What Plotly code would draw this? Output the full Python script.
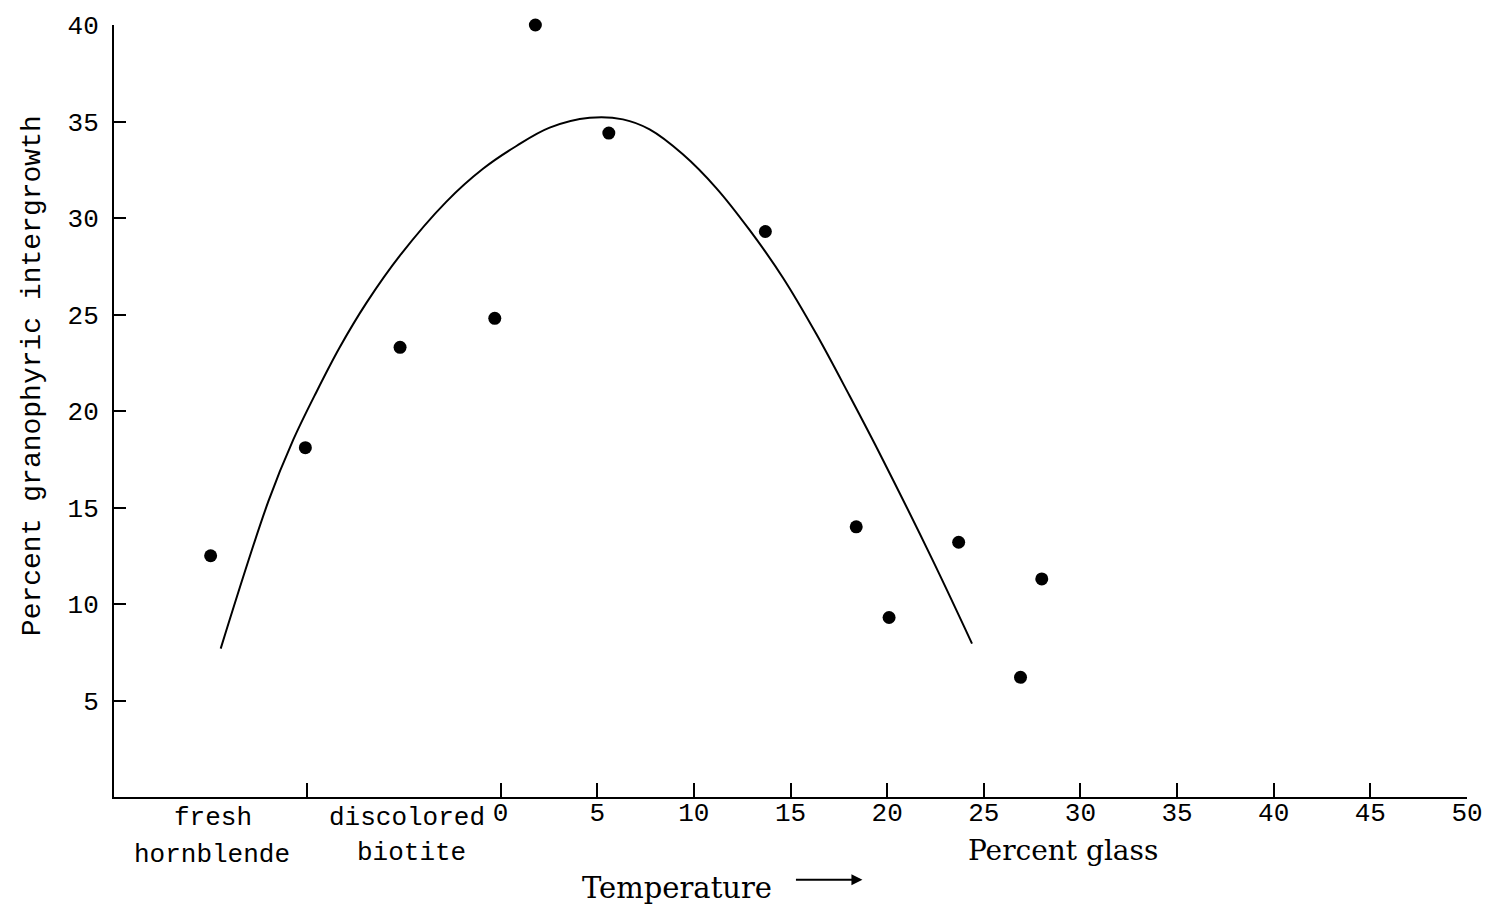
import plotly.graph_objects as go

# ---- data ----
point_x = [-15.0, -10.1, -5.2, -0.3, 1.8, 5.6, 13.7, 18.4, 20.1, 23.7, 26.9, 28.0]
point_y = [12.5, 18.1, 23.3, 24.8, 40.0, 34.4, 29.3, 14.0, 9.3, 13.2, 6.2, 11.3]

curve_x = [-14.48, -12.02, -10.73, -9.52, -8.32, -6.94, -5.21, -2.80, -0.91, 0.82,
           2.54, 4.61, 6.33, 7.71, 9.43, 11.16, 12.88, 14.60, 16.33, 18.05,
           19.77, 22.36, 24.39]
curve_y = [7.69, 15.30, 18.50, 21.00, 23.30, 25.60, 28.05, 30.85, 32.55, 33.73,
           34.68, 35.19, 35.11, 34.59, 33.30, 31.55, 29.38, 26.92, 24.00, 20.80,
           17.49, 12.26, 7.95]

x_tickvals = [-10, 0, 5, 10, 15, 20, 25, 30, 35, 40, 45, 50]
x_ticktext = ["", "0", "5", "10", "15", "20", "25", "30", "35", "40", "45", "50"]
y_tickvals = [5, 10, 15, 20, 25, 30, 35, 40]
y_ticktext = ["5", "10", "15", "20", "25", "30", "35", "40"]

W, H = 1495, 912
L, R, T, B = 114, 27, 23, 115
PW, PH = W - L - R, H - T - B

def xp(px):
    return (px - L) / PW

def yp(py):
    return (H - B - py) / PH

MONO = "Liberation Mono"
SERIF = "DejaVu Serif"

fig = go.Figure()
fig.add_trace(go.Scatter(x=curve_x, y=curve_y, mode="lines",
                         line=dict(color="black", width=2, shape="spline", smoothing=1.0),
                         hoverinfo="skip", showlegend=False))
fig.add_trace(go.Scatter(x=point_x, y=point_y, mode="markers",
                         marker=dict(color="black", size=13),
                         cliponaxis=False, showlegend=False))

ann = []
def txt(text, px, py, font, size, angle=0):
    ann.append(dict(text=text, x=xp(px), y=yp(py), xref="paper", yref="paper",
                    showarrow=False, xanchor="center", yanchor="middle",
                    textangle=angle, font=dict(family=font, size=size, color="black")))

txt("Percent granophyric intergrowth", 32, 375, MONO, 28, angle=-90)
txt("fresh", 213, 818, MONO, 26)
txt("hornblende", 212, 855, MONO, 26)
txt("discolored", 407, 818, MONO, 26)
txt("biotite", 412, 853, MONO, 26)
txt("Temperature", 677, 888, SERIF, 29)
txt("Percent glass", 1064, 851, SERIF, 28)
ann.append(dict(text="", x=xp(863), y=yp(880), xref="paper", yref="paper",
                ax=-68, ay=0, showarrow=True, arrowhead=2, arrowsize=1.1,
                arrowwidth=2, arrowcolor="black"))

fig.update_layout(
    width=W, height=H,
    margin=dict(l=L, r=R, t=T, b=B),
    paper_bgcolor="white", plot_bgcolor="white",
    annotations=ann,
    xaxis=dict(range=[-20, 50], tickvals=x_tickvals, ticktext=x_ticktext,
               showline=True, linecolor="black", linewidth=2,
               ticks="inside", ticklen=14, tickwidth=2, tickcolor="black",
               showgrid=False, zeroline=False, ticklabelstandoff=-9,
               tickfont=dict(family=MONO, size=26, color="black")),
    yaxis=dict(range=[0, 40], tickvals=y_tickvals, ticktext=y_ticktext,
               showline=True, linecolor="black", linewidth=2,
               ticks="inside", ticklen=12, tickwidth=2, tickcolor="black",
               showgrid=False, zeroline=False, ticklabelstandoff=8,
               tickfont=dict(family=MONO, size=26, color="black")),
)

fig.write_html("out.html")
